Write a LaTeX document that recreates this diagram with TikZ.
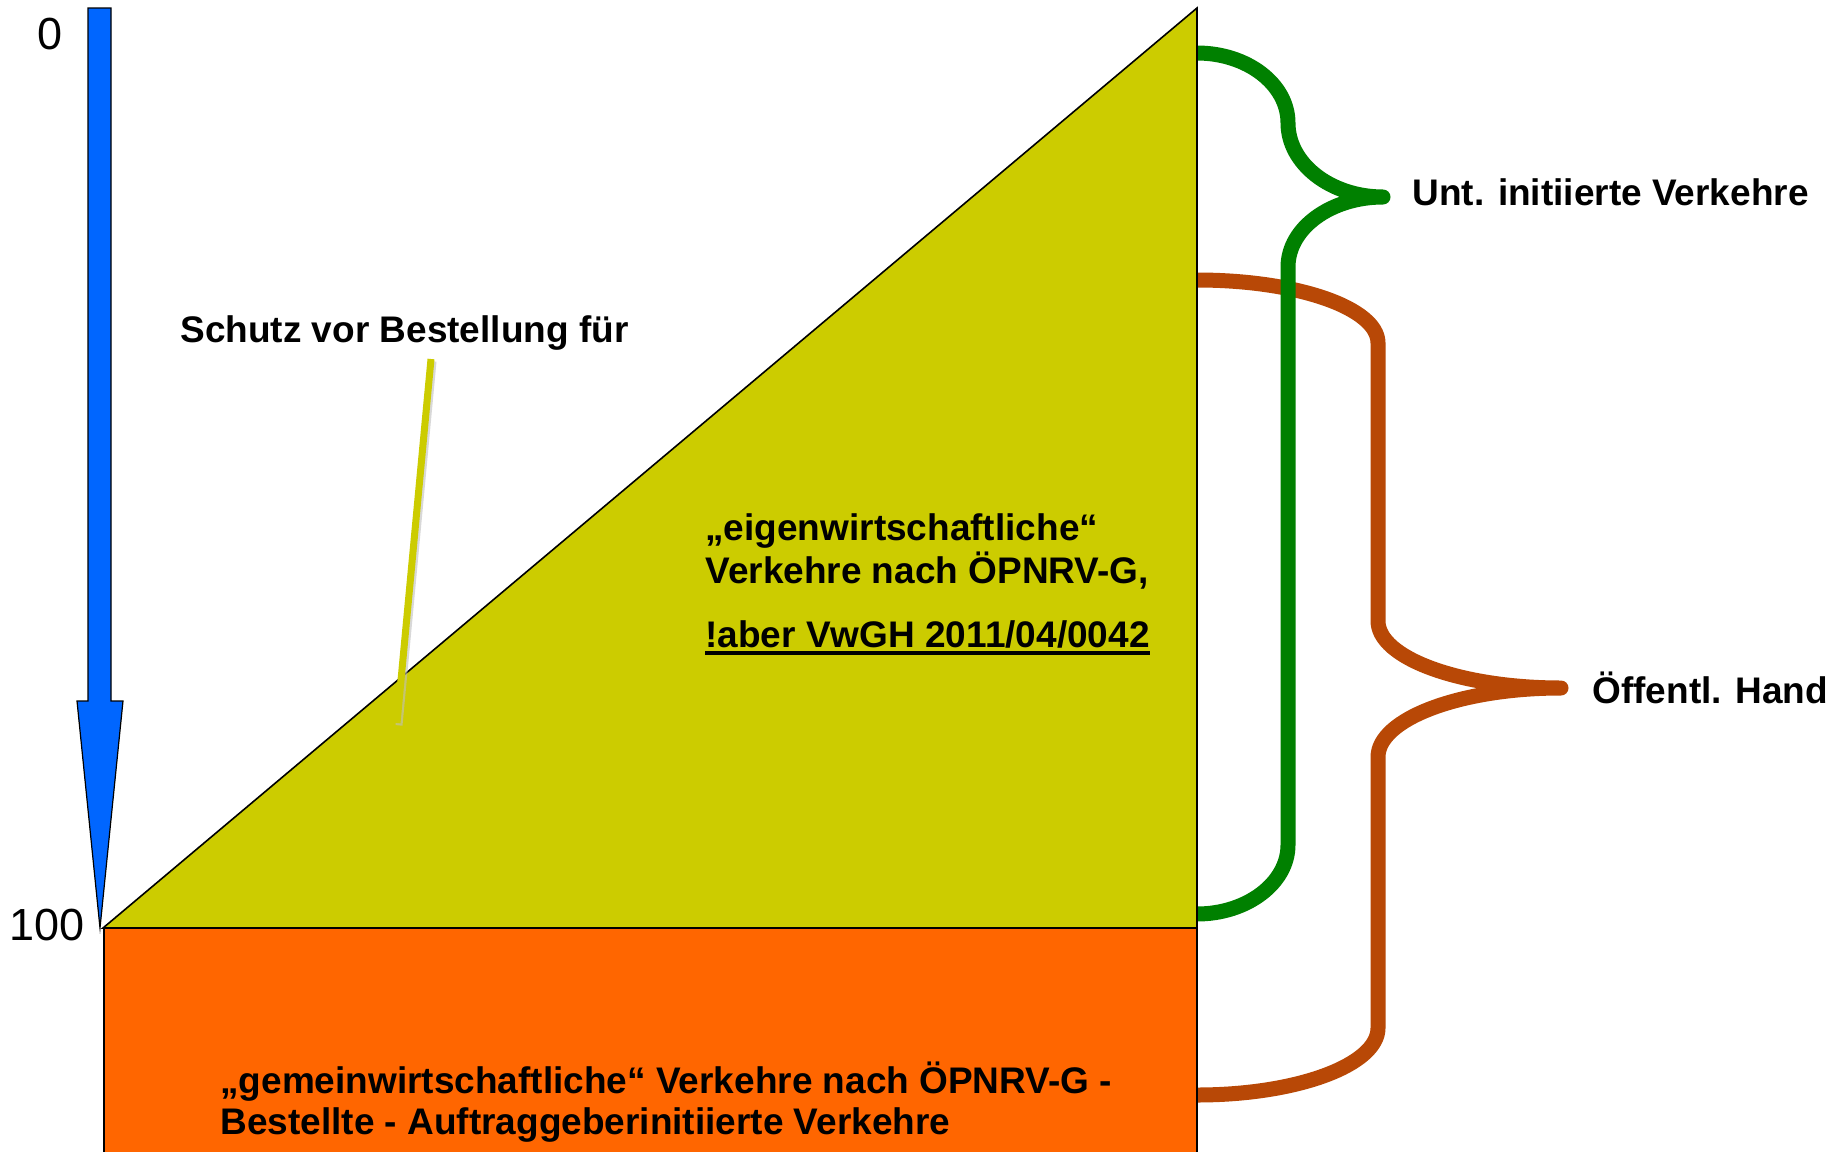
\documentclass[tikz,border=0pt]{standalone}
\usepackage{fontspec}
\setmainfont{Liberation Sans}
\definecolor{arrowblue}{HTML}{0066FF}
\definecolor{olivefill}{HTML}{CCCC00}
\definecolor{orangefill}{HTML}{FF6600}
\definecolor{bracegreen}{HTML}{008000}
\definecolor{bracebrownc}{HTML}{B84806}
\begin{document}
\begin{tikzpicture}[x=0.5pt,y=-0.5pt,
  boldlabel/.style={inner sep=0pt,anchor=base west,font=\fontsize{18.5}{21.5}\selectfont\bfseries},
  scalelabel/.style={inner sep=0pt,anchor=base,font=\fontsize{22.5}{26}\selectfont},
  bracegreenline/.style={draw=bracegreen,line width=7.5pt,line cap=round,line join=round},
  bracebrownline/.style={draw=bracebrownc,line width=7.5pt,line cap=round,line join=round},
  shapeedge/.style={draw=black,line width=0.8pt,line join=miter}]
\useasboundingbox (0,0) rectangle (1841,1151);
\fill[white] (0,0) rectangle (1841,1151);

% named points
\coordinate (gTop) at (1197,53);
\coordinate (gTip) at (1383,197);
\coordinate (gBot) at (1197,914);
\coordinate (bTop) at (1197,280);
\coordinate (bTip) at (1561,688);
\coordinate (bBot) at (1197,1095);

% braces (drawn first, the shapes cover their left ends)
\draw[bracebrownline] (bTop) .. controls (1297,280) and (1378,308) .. (1378,343)
  -- (1378,621) .. controls (1378,658) and (1460,688) .. (bTip)
  .. controls (1460,688) and (1378,719) .. (1378,757)
  -- (1378,1028) .. controls (1378,1065) and (1297,1095) .. (bBot);
\draw[bracegreenline] (gTop) .. controls (1247,53) and (1288,84) .. (1288,123)
  .. controls (1288,164) and (1331,197) .. (gTip)
  .. controls (1331,197) and (1288,228) .. (1288,267)
  -- (1288,845) .. controls (1288,883) and (1247,914) .. (gBot);

% orange rectangle
\path[fill=orangefill,shapeedge] (104,928) rectangle (1197,1160);
% triangle
\path[fill=olivefill,shapeedge] (103,928) -- (1197,8) -- (1197,928) -- cycle;

% blue arrow
\path[fill=arrowblue,draw=black,line width=0.6pt]
  (88,8) -- (111,8) -- (111,701) -- (123,701) -- (100,928) -- (77,701) -- (88,701) -- cycle;

% callout line
\coordinate (cTop) at (431,359);
\coordinate (cBot) at (397,723);
\draw[black!25,line width=3.5pt,opacity=0.6] ([xshift=1pt,yshift=-1.2pt]cTop) -- ([xshift=1pt,yshift=-1.2pt]cBot);
\draw[olivefill,line width=3.5pt] (cTop) -- (cBot);

% scale labels
\node[scalelabel] (zero) at (50,49) {0};
\node[scalelabel] (hundred) at (47,940) {100};

% labels
\node[boldlabel] (schutz) at (180,342) {Schutz vor Bestellung für};
\node[boldlabel] (unt) at (1412,205) {Unt. initiierte Verkehre};
\node[boldlabel] (oeff) at (1592,703) {Öffentl. Hand};
\node[boldlabel] (eig1) at (705,540) {„eigenwirtschaftliche“};
\node[boldlabel] (eig2) at (705,583) {Verkehre nach ÖPNRV-G,};
\node[boldlabel] (eig3) at (705,647) {!aber VwGH 2011/04/0042};
\draw[black,line width=2pt] ([yshift=-3pt]eig3.base west) -- ([yshift=-3pt]eig3.base east);
\node[boldlabel] (gem1) at (220,1093) {„gemeinwirtschaftliche“ Verkehre nach ÖPNRV-G -};
\node[boldlabel] (gem2) at (220,1134) {Bestellte - Auftraggeberinitiierte Verkehre};
\end{tikzpicture}
\end{document}
